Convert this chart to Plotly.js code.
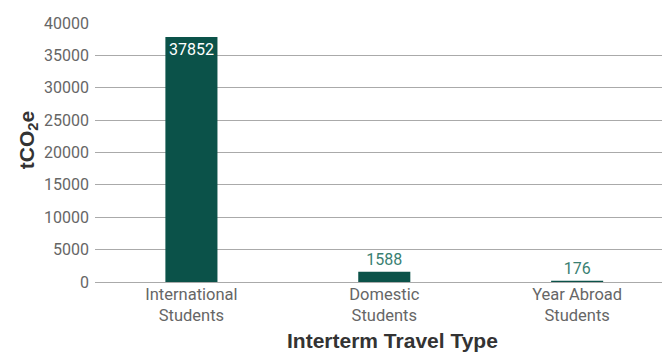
<!DOCTYPE html>
<html><head><meta charset="utf-8">
<script src="https://cdn.plot.ly/plotly-3.0.1.min.js"></script>
<style>html,body{margin:0;padding:0;background:#fff}#c{width:662px;height:352px}</style>
</head><body><div id="c"></div>
<script>
const categories = ["International<br>Students", "Domestic<br>Students", "Year Abroad<br>Students"];
const values = [37852, 1588, 176];
const yTicks = [0, 5000, 10000, 15000, 20000, 25000, 30000, 35000, 40000];
const xTitle = 'Interterm Travel Type';
const yTitle = 'tCO<sub>2</sub>e';

const trace = {
  type: 'bar', x: categories, y: values, width: 0.27,
  marker: {color: '#0b5249'},
  text: values.map(String), textposition: values.map((v, i) => i === 0 ? 'inside' : 'outside'),
  insidetextanchor: 'end',
  insidetextfont: {color: '#ffffff', size: 16, family: 'Roboto, sans-serif'},
  outsidetextfont: {color: '#3a7f72', size: 16, family: 'Roboto, sans-serif'},
  cliponaxis: false, hoverinfo: 'none'
};
const layout = {
  width: 662, height: 352,
  margin: {l: 95, r: 0, t: 23, b: 70},
  paper_bgcolor: '#fff', plot_bgcolor: '#fff',
  showlegend: false,
  font: {family: 'Roboto, sans-serif', color: '#666', size: 15},
  xaxis: {range: [-0.5, 2.44], showgrid: false, showline: false, zeroline: false,
    tickfont: {size: 16.5, color: '#666'}, ticks: ''},
  yaxis: {range: [0, 40000], tickvals: yTicks, ticktext: yTicks.map(String),
    showgrid: true, gridcolor: '#aaa', gridwidth: 1, zeroline: true, zerolinecolor: '#aaa', zerolinewidth: 1,
    showline: false, ticks: '', ticklabelstandoff: 5,
    tickfont: {size: 16, color: '#666'}},
  annotations: [
    {text: '<b>' + xTitle + '</b>', xref: 'paper', yref: 'paper', x: 0.524, y: -0.224,
     xanchor: 'center', yanchor: 'middle', showarrow: false,
     font: {family: 'Liberation Sans, Arial, sans-serif', size: 21, color: '#333'}},
    {text: '<b>' + yTitle + '</b>', xref: 'paper', yref: 'paper', x: -0.118, y: 0.548,
     xanchor: 'center', yanchor: 'middle', showarrow: false, textangle: -90,
     font: {family: 'Liberation Sans, Arial, sans-serif', size: 21, color: '#333'}}
  ]
};
Plotly.newPlot('c', [trace], layout, {displayModeBar: false, staticPlot: true});
</script></body></html>
